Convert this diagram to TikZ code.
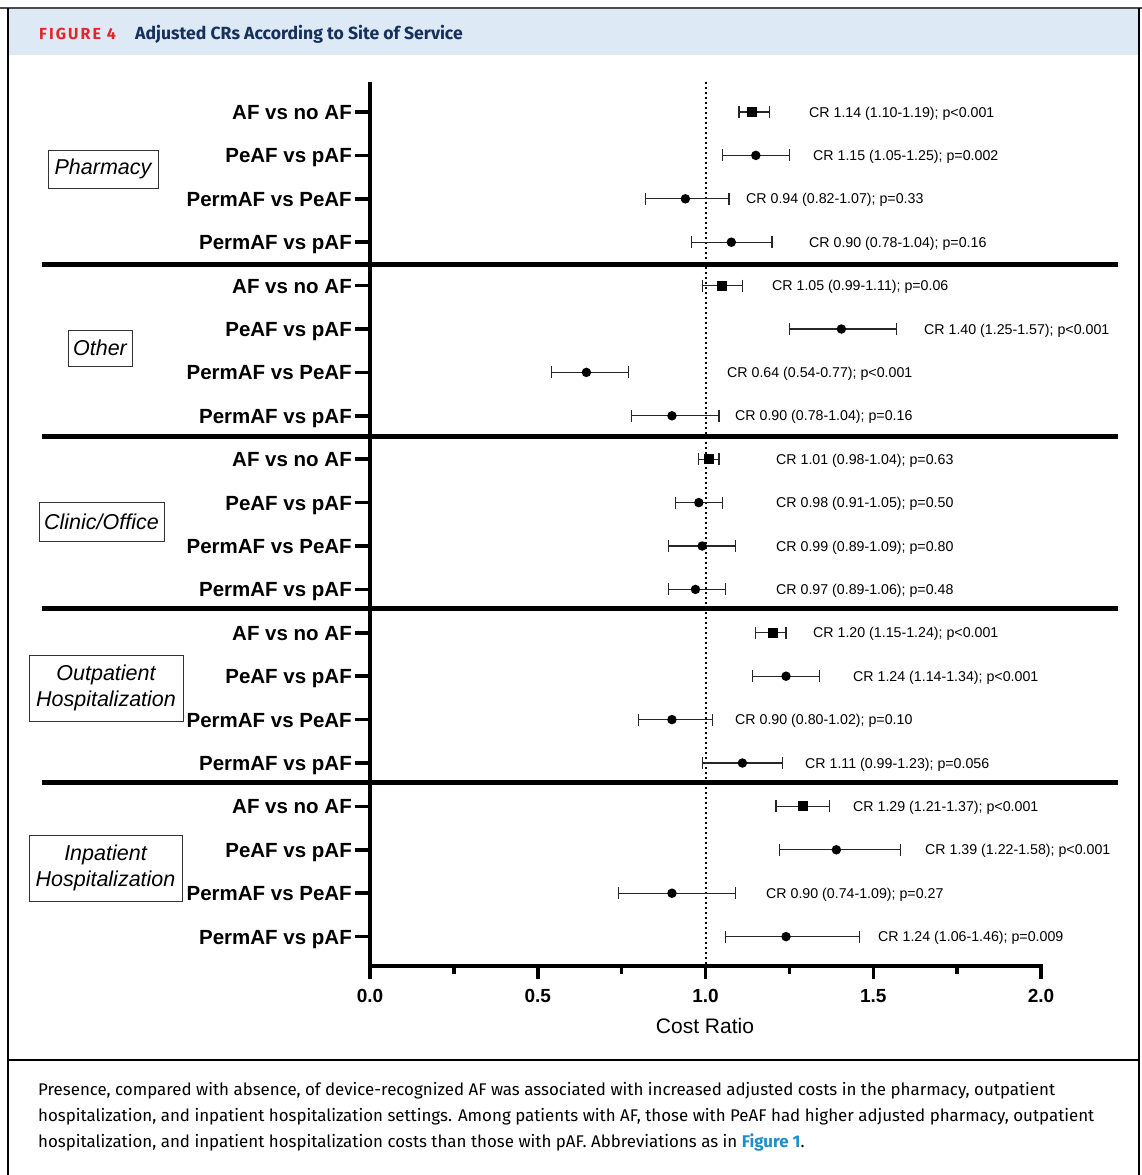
\documentclass[tikz,border=0pt]{standalone}
\usepackage{fontspec}
\setmainfont{Liberation Sans}
\newfontfamily\capfont{Fira Sans}
\definecolor{headblue}{HTML}{DDE9F5}
\definecolor{figred}{HTML}{E3242B}
\definecolor{navy}{HTML}{15305C}
\definecolor{linkblue}{HTML}{1B8FCB}
\tikzset{
  rowlab/.style={anchor=base east, inner sep=0pt, font=\bfseries\fontsize{20.5}{24}\selectfont},
  crlab/.style={anchor=base west, inner sep=0pt, font=\fontsize{14.2}{17}\selectfont},
  grpbox/.style={draw=black!80, line width=1pt, inner sep=0pt, align=center, font=\itshape\fontsize{21.5}{27}\selectfont},
  ytickline/.style={line width=3.5pt},
  ciline/.style={line width=1.2pt, black!85},
  sqmark/.style={rectangle, fill=black, minimum size=10pt, inner sep=0pt},
  dotmark/.style={circle, fill=black, minimum size=9.5pt, inner sep=0pt},
  seprule/.style={line width=4.5pt},
  axlab/.style={font=\bfseries\fontsize{19}{22}\selectfont, inner sep=0pt},
  caplab/.style={anchor=base west, inner sep=0pt, font=\capfont\fontsize{16.9}{20}\selectfont}
}
\begin{document}
\begin{tikzpicture}[x=1pt,y=-1pt]
\useasboundingbox (0,0) rectangle (1142,1175);
\fill[white] (0,0) rectangle (1142,1175);
% header
\fill[headblue] (8,9) rectangle (1138,55);
\draw[black!70, line width=2pt] (0,8) -- (1142,8);
\draw[line width=2pt] (7.5,8) -- (7.5,1175);
\draw[line width=2pt] (1138.5,8) -- (1138.5,1175);
\draw[line width=1.5pt] (7.5,1060) -- (1138.5,1060);
\node[anchor=base west, inner sep=0pt, text=figred, font=\capfont\bfseries\fontsize{16}{18}\selectfont] (fig) at (39,39.3) {\addfontfeature{LetterSpace=13}FIGURE 4};
\node[anchor=base west, inner sep=0pt, text=navy, font=\capfont\bfseries\fontsize{17.6}{20}\selectfont] (title) at (135,39.3) {Adjusted CRs According to Site of Service};
% axes
\draw[line width=2.2pt, dash pattern=on 2pt off 3pt] (706,82) -- (706,964);
\draw[line width=4pt] (370,82) -- (370,966);
\draw[line width=4pt] (368,966) -- (1043,966);
\foreach \v/\t in {0/0.0,0.5/0.5,1/1.0,1.5/1.5,2/2.0}{
  \draw[line width=3.5pt] ({370+335.5*\v},966) -- ({370+335.5*\v},979);
  \node[axlab] (xt\t) at ({370+335.5*\v},996) {\t};
}
\foreach \v in {0.25,0.75,1.25,1.75}{
  \draw[line width=3.5pt] ({370+335.5*\v},966) -- ({370+335.5*\v},974);
}
\node[font=\fontsize{21}{25}\selectfont, inner sep=0pt] (xlab) at (705,1026) {Cost Ratio};
% separators
\foreach \s in {264.5,436.5,608.5,782.5}{
  \draw[seprule] (42,\s) -- (1118,\s);
}
% group boxes
\node[grpbox, minimum width=110pt, minimum height=38pt] (g1) at (103,169) {Pharmacy};
\node[grpbox, minimum width=64pt, minimum height=36pt] (g2) at (100,348) {Other};
\node[grpbox, minimum width=125pt, minimum height=39pt] (g3) at (101.5,521.5) {Clinic/Office};
\node[grpbox, minimum width=154pt, minimum height=66pt] (g4) at (106,688) {Outpatient\\[-1pt]Hospitalization};
\node[grpbox, minimum width=153pt, minimum height=66pt] (g5) at (105.5,868) {Inpatient\\[-1pt]Hospitalization};
% rows
\foreach \i/\cr/\lo/\hi/\mk/\tl/\tx in {
 0/1.14/1.10/1.19/sqmark/809/CR 1.14 (1.10-1.19); p<0.001,
 1/1.15/1.05/1.25/dotmark/813/CR 1.15 (1.05-1.25); p=0.002,
 2/0.94/0.82/1.07/dotmark/746/CR 0.94 (0.82-1.07); p=0.33,
 3/1.077/0.958/1.198/dotmark/809/CR 0.90 (0.78-1.04); p=0.16,
 4/1.05/0.99/1.11/sqmark/772/CR 1.05 (0.99-1.11); p=0.06,
 5/1.405/1.25/1.57/dotmark/924/CR 1.40 (1.25-1.57); p<0.001,
 6/0.645/0.54/0.77/dotmark/727/CR 0.64 (0.54-0.77); p<0.001,
 7/0.90/0.78/1.04/dotmark/735/CR 0.90 (0.78-1.04); p=0.16,
 8/1.01/0.98/1.04/sqmark/776/CR 1.01 (0.98-1.04); p=0.63,
 9/0.98/0.91/1.05/dotmark/776/CR 0.98 (0.91-1.05); p=0.50,
 10/0.99/0.89/1.09/dotmark/776/CR 0.99 (0.89-1.09); p=0.80,
 11/0.97/0.89/1.06/dotmark/776/CR 0.97 (0.89-1.06); p=0.48,
 12/1.20/1.15/1.24/sqmark/813/CR 1.20 (1.15-1.24); p<0.001,
 13/1.24/1.14/1.34/dotmark/853/CR 1.24 (1.14-1.34); p<0.001,
 14/0.90/0.80/1.02/dotmark/735/CR 0.90 (0.80-1.02); p=0.10,
 15/1.11/0.99/1.23/dotmark/805/CR 1.11 (0.99-1.23); p=0.056,
 16/1.29/1.21/1.37/sqmark/853/CR 1.29 (1.21-1.37); p<0.001,
 17/1.39/1.22/1.58/dotmark/925/CR 1.39 (1.22-1.58); p<0.001,
 18/0.90/0.74/1.09/dotmark/766/CR 0.90 (0.74-1.09); p=0.27,
 19/1.24/1.06/1.46/dotmark/878/CR 1.24 (1.06-1.46); p=0.009}{
  \pgfmathsetmacro\yy{112+43.4*\i}
  \pgfmathsetmacro\xl{370+335.5*\lo}
  \pgfmathsetmacro\xh{370+335.5*\hi}
  \pgfmathsetmacro\xc{370+335.5*\cr}
  \draw[ciline] (\xl,\yy) -- (\xh,\yy);
  \draw[ciline] (\xl,\yy-6) -- (\xl,\yy+6);
  \draw[ciline] (\xh,\yy-6) -- (\xh,\yy+6);
  \node[\mk] (m\i) at (\xc,\yy) {};
  \node[crlab] (c\i) at (\tl,\yy+5.1) {\tx};
  \draw[ytickline] (355,\yy) -- (370,\yy);
}
\foreach \g in {0,1,2,3,4}{
  \pgfmathsetmacro\ya{112+43.4*(4*\g)}
  \pgfmathsetmacro\yb{112+43.4*(4*\g+1)}
  \pgfmathsetmacro\yc{112+43.4*(4*\g+2)}
  \pgfmathsetmacro\yd{112+43.4*(4*\g+3)}
  \node[rowlab] (ra\g) at (352,\ya+7.4) {AF vs no AF};
  \node[rowlab] (rb\g) at (352,\yb+7.4) {PeAF vs pAF};
  \node[rowlab] (rc\g) at (352,\yc+7.4) {PermAF vs PeAF};
  \node[rowlab] (rd\g) at (352,\yd+7.4) {PermAF vs pAF};
}
% caption
\node[caplab] (cap1) at (38,1095) {Presence, compared with absence, of device-recognized AF was associated with increased adjusted costs in the pharmacy, outpatient};
\node[caplab] (cap2) at (38,1121) {hospitalization, and inpatient hospitalization settings. Among patients with AF, those with PeAF had higher adjusted pharmacy, outpatient};
\node[caplab] (cap3) at (38,1147) {hospitalization, and inpatient hospitalization costs than those with pAF. Abbreviations as in {\color{linkblue}\bfseries Figure 1}.};
\end{tikzpicture}
\end{document}
